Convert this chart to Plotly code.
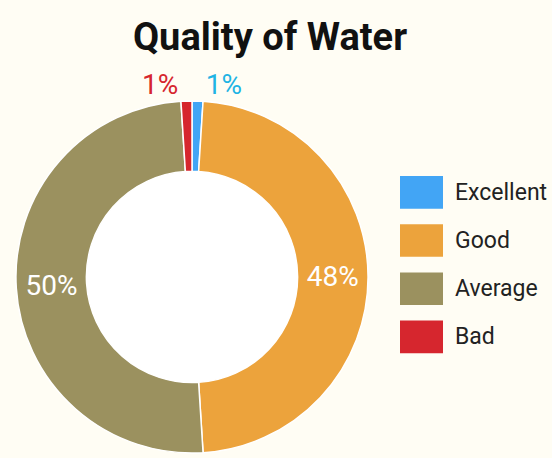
import plotly.graph_objects as go

W, H = 552, 458

title = "Quality of Water"
categories = ["Excellent", "Good", "Average", "Bad"]
values = [1, 48, 50, 1]
colors = ["#42a5f5", "#eca33c", "#9b915f", "#d6262e"]
text_colors = ["#1fb4e4", "#ffffff", "#ffffff", "#d6262e"]
text_positions = ["outside", "inside", "inside", "outside"]

bg = "#fffdf4"

# pie geometry (pixels)
cx, cy_top, r = 192, 280, 178
hole = 0.6

fig = go.Figure()
fig.add_trace(go.Pie(
    labels=categories,
    values=values,
    sort=False,
    direction="clockwise",
    rotation=0,
    hole=hole,
    marker=dict(colors=colors, line=dict(color="#ffffff", width=1.5)),
    textinfo="percent",
    texttemplate="%{percent:.0%}",
    textposition=text_positions,
    insidetextorientation="horizontal",
    textfont=dict(family="Roboto", size=28, color=text_colors),
    outsidetextfont=dict(family="Roboto", size=28, color=text_colors),
    insidetextfont=dict(family="Roboto", size=28, color=text_colors),
    showlegend=False,
    domain=dict(x=[(cx - r) / W, (cx + r) / W], y=[0, (2 * r) / H]),
    hoverinfo="label+percent",
))

shapes = []
# white background inside the hole
ri = r * hole + 3
cy_b = H - cy_top
shapes.append(dict(type="circle", xref="paper", yref="paper", layer="below",
                   x0=(cx - ri) / W, x1=(cx + ri) / W,
                   y0=(cy_b - ri) / H, y1=(cy_b + ri) / H,
                   fillcolor="#ffffff", line=dict(width=0)))

annotations = []
# custom legend with large swatches
lx0, lx1 = 400, 443
ly_top0, lstep, lh = 178, 48.7, 33
for i, (cat, col) in enumerate(zip(categories, colors)):
    top = ly_top0 + i * lstep
    shapes.append(dict(type="rect", xref="paper", yref="paper",
                       x0=lx0 / W, x1=lx1 / W,
                       y0=(H - top - lh) / H, y1=(H - top) / H,
                       fillcolor=col, line=dict(width=0)))
    annotations.append(dict(xref="paper", yref="paper", x=453 / W,
                            y=(H - top - lh / 2) / H, xanchor="left", yanchor="middle",
                            text=cat, showarrow=False,
                            font=dict(family="Roboto", size=23, color="#222222")))

fig.update_layout(
    width=W, height=H,
    margin=dict(l=0, r=0, t=0, b=0),
    paper_bgcolor=bg, plot_bgcolor=bg,
    title=dict(text="<b>" + title + "</b>", x=270 / W, xanchor="center",
               y=1 - 37 / H, yanchor="middle",
               font=dict(family="Roboto", size=38, color="#111111")),
    shapes=shapes,
    annotations=annotations,
)

fig.write_html(
    "out.html",
    config={"displayModeBar": False},
    post_script="document.body.style.margin='0';document.body.style.background='%s';" % bg,
)
